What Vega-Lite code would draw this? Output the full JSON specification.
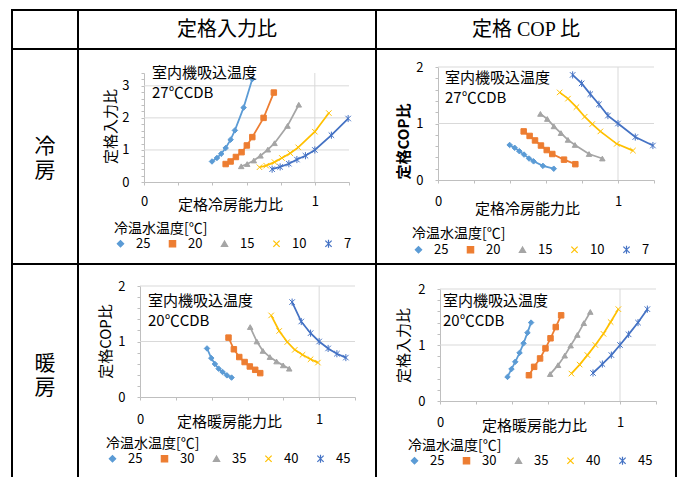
{
  "$schema": "https://vega.github.io/schema/vega-lite/v6.json",
  "padding": {"left": 11, "top": 9, "right": 8, "bottom": -3},
  "spacing": 0,
  "bounds": "flush",
  "align": "each",
  "columns": 3,
  "resolve": {"scale": {"color": "independent", "stroke": "independent", "shape": "independent"}, "legend": {"color": "independent", "stroke": "independent", "shape": "independent"}},
  "config": {
    "font": "Noto Sans CJK JP",
    "view": {"stroke": "#000000", "strokeWidth": 2},
    "concat": {"spacing": 0},
    "axis": {"domainColor": "#bfbfbf", "tickColor": "#bfbfbf", "gridColor": "#d9d9d9", "labelColor": "#000000", "titleColor": "#000000", "labelFontSize": 13, "titleFontSize": 15, "titleFontWeight": "normal", "tickSize": 3, "labelFlush": false, "labelOverlap": false, "format": "d"},
    "legend": {"labelFontSize": 13, "titleFontSize": 14, "titleFontWeight": "normal", "titleColor": "#000000", "labelColor": "#000000", "padding": 0},
    "title": {"fontSize": 15, "fontWeight": "normal", "subtitleFontSize": 15, "subtitleColor": "#000000", "color": "#000000", "anchor": "start", "frame": "group", "subtitlePadding": 5, "align": "left"}
  },
  "datasets": {
    "coolInput": [
      {"temp":"25","cap":0.398,"ratio":0.64},{"temp":"25","cap":0.427,"ratio":0.75},{"temp":"25","cap":0.452,"ratio":0.88},{"temp":"25","cap":0.478,"ratio":1.06},{"temp":"25","cap":0.507,"ratio":1.32},{"temp":"25","cap":0.532,"ratio":1.61},{"temp":"25","cap":0.583,"ratio":2.32},{"temp":"25","cap":0.634,"ratio":3.21},
      {"temp":"20","cap":0.478,"ratio":0.56},{"temp":"20","cap":0.507,"ratio":0.64},{"temp":"20","cap":0.538,"ratio":0.78},{"temp":"20","cap":0.571,"ratio":0.93},{"temp":"20","cap":0.602,"ratio":1.14},{"temp":"20","cap":0.634,"ratio":1.40},{"temp":"20","cap":0.700,"ratio":2.00},{"temp":"20","cap":0.760,"ratio":2.79},
      {"temp":"15","cap":0.569,"ratio":0.49},{"temp":"15","cap":0.604,"ratio":0.56},{"temp":"15","cap":0.643,"ratio":0.67},{"temp":"15","cap":0.682,"ratio":0.82},{"temp":"15","cap":0.725,"ratio":1.01},{"temp":"15","cap":0.764,"ratio":1.21},{"temp":"15","cap":0.840,"ratio":1.75},{"temp":"15","cap":0.906,"ratio":2.41},
      {"temp":"10","cap":0.676,"ratio":0.46},{"temp":"10","cap":0.715,"ratio":0.51},{"temp":"10","cap":0.764,"ratio":0.62},{"temp":"10","cap":0.807,"ratio":0.75},{"temp":"10","cap":0.856,"ratio":0.90},{"temp":"10","cap":0.903,"ratio":1.08},{"temp":"10","cap":1.000,"ratio":1.57},{"temp":"10","cap":1.082,"ratio":2.15},
      {"temp":"7","cap":0.750,"ratio":0.40},{"temp":"7","cap":0.797,"ratio":0.47},{"temp":"7","cap":0.848,"ratio":0.57},{"temp":"7","cap":0.895,"ratio":0.70},{"temp":"7","cap":0.945,"ratio":0.82},{"temp":"7","cap":1.000,"ratio":1.00},{"temp":"7","cap":1.097,"ratio":1.46},{"temp":"7","cap":1.195,"ratio":1.98}
    ],
    "coolCop": [
      {"temp":"25","cap":0.398,"ratio":0.62},{"temp":"25","cap":0.426,"ratio":0.57},{"temp":"25","cap":0.452,"ratio":0.51},{"temp":"25","cap":0.478,"ratio":0.45},{"temp":"25","cap":0.506,"ratio":0.38},{"temp":"25","cap":0.531,"ratio":0.33},{"temp":"25","cap":0.583,"ratio":0.25},{"temp":"25","cap":0.643,"ratio":0.20},
      {"temp":"20","cap":0.476,"ratio":0.86},{"temp":"20","cap":0.509,"ratio":0.78},{"temp":"20","cap":0.539,"ratio":0.70},{"temp":"20","cap":0.572,"ratio":0.61},{"temp":"20","cap":0.604,"ratio":0.53},{"temp":"20","cap":0.635,"ratio":0.46},{"temp":"20","cap":0.700,"ratio":0.36},{"temp":"20","cap":0.763,"ratio":0.28},
      {"temp":"15","cap":0.569,"ratio":1.17},{"temp":"15","cap":0.607,"ratio":1.08},{"temp":"15","cap":0.644,"ratio":0.95},{"temp":"15","cap":0.683,"ratio":0.83},{"temp":"15","cap":0.722,"ratio":0.71},{"temp":"15","cap":0.761,"ratio":0.62},{"temp":"15","cap":0.839,"ratio":0.46},{"temp":"15","cap":0.913,"ratio":0.38},
      {"temp":"10","cap":0.676,"ratio":1.55},{"temp":"10","cap":0.722,"ratio":1.44},{"temp":"10","cap":0.769,"ratio":1.29},{"temp":"10","cap":0.815,"ratio":1.12},{"temp":"10","cap":0.857,"ratio":0.99},{"temp":"10","cap":0.902,"ratio":0.86},{"temp":"10","cap":0.993,"ratio":0.64},{"temp":"10","cap":1.083,"ratio":0.52},
      {"temp":"7","cap":0.748,"ratio":1.86},{"temp":"7","cap":0.798,"ratio":1.71},{"temp":"7","cap":0.846,"ratio":1.52},{"temp":"7","cap":0.894,"ratio":1.34},{"temp":"7","cap":0.944,"ratio":1.14},{"temp":"7","cap":1.000,"ratio":1.00},{"temp":"7","cap":1.096,"ratio":0.76},{"temp":"7","cap":1.194,"ratio":0.61}
    ],
    "heatCop": [
      {"temp":"25","cap":0.374,"ratio":0.875},{"temp":"25","cap":0.398,"ratio":0.70},{"temp":"25","cap":0.418,"ratio":0.595},{"temp":"25","cap":0.439,"ratio":0.51},{"temp":"25","cap":0.461,"ratio":0.45},{"temp":"25","cap":0.485,"ratio":0.39},{"temp":"25","cap":0.511,"ratio":0.35},
      {"temp":"30","cap":0.494,"ratio":1.07},{"temp":"30","cap":0.524,"ratio":0.86},{"temp":"30","cap":0.554,"ratio":0.72},{"temp":"30","cap":0.584,"ratio":0.63},{"temp":"30","cap":0.613,"ratio":0.55},{"temp":"30","cap":0.643,"ratio":0.49},{"temp":"30","cap":0.671,"ratio":0.43},
      {"temp":"35","cap":0.615,"ratio":1.26},{"temp":"35","cap":0.652,"ratio":1.00},{"temp":"35","cap":0.686,"ratio":0.83},{"temp":"35","cap":0.725,"ratio":0.72},{"temp":"35","cap":0.762,"ratio":0.64},{"temp":"35","cap":0.799,"ratio":0.57},{"temp":"35","cap":0.833,"ratio":0.51},
      {"temp":"40","cap":0.732,"ratio":1.47},{"temp":"40","cap":0.777,"ratio":1.19},{"temp":"40","cap":0.822,"ratio":0.99},{"temp":"40","cap":0.864,"ratio":0.85},{"temp":"40","cap":0.907,"ratio":0.76},{"temp":"40","cap":0.952,"ratio":0.68},{"temp":"40","cap":0.993,"ratio":0.62},
      {"temp":"45","cap":0.849,"ratio":1.71},{"temp":"45","cap":0.900,"ratio":1.36},{"temp":"45","cap":0.952,"ratio":1.15},{"temp":"45","cap":1.000,"ratio":1.00},{"temp":"45","cap":1.050,"ratio":0.875},{"temp":"45","cap":1.099,"ratio":0.78},{"temp":"45","cap":1.149,"ratio":0.71}
    ],
    "heatInput": [
      {"temp":"25","cap":0.375,"ratio":0.43},{"temp":"25","cap":0.397,"ratio":0.57},{"temp":"25","cap":0.418,"ratio":0.70},{"temp":"25","cap":0.442,"ratio":0.86},{"temp":"25","cap":0.464,"ratio":1.03},{"temp":"25","cap":0.486,"ratio":1.22},{"temp":"25","cap":0.506,"ratio":1.40},
      {"temp":"30","cap":0.494,"ratio":0.46},{"temp":"30","cap":0.523,"ratio":0.61},{"temp":"30","cap":0.556,"ratio":0.76},{"temp":"30","cap":0.586,"ratio":0.94},{"temp":"30","cap":0.614,"ratio":1.12},{"temp":"30","cap":0.643,"ratio":1.32},{"temp":"30","cap":0.673,"ratio":1.53},
      {"temp":"35","cap":0.612,"ratio":0.48},{"temp":"35","cap":0.656,"ratio":0.64},{"temp":"35","cap":0.693,"ratio":0.81},{"temp":"35","cap":0.726,"ratio":0.99},{"temp":"35","cap":0.763,"ratio":1.18},{"temp":"35","cap":0.799,"ratio":1.39},{"temp":"35","cap":0.835,"ratio":1.59},
      {"temp":"40","cap":0.730,"ratio":0.49},{"temp":"40","cap":0.776,"ratio":0.65},{"temp":"40","cap":0.819,"ratio":0.82},{"temp":"40","cap":0.863,"ratio":1.00},{"temp":"40","cap":0.908,"ratio":1.20},{"temp":"40","cap":0.948,"ratio":1.41},{"temp":"40","cap":0.991,"ratio":1.64},
      {"temp":"45","cap":0.850,"ratio":0.50},{"temp":"45","cap":0.902,"ratio":0.66},{"temp":"45","cap":0.952,"ratio":0.82},{"temp":"45","cap":1.000,"ratio":1.00},{"temp":"45","cap":1.048,"ratio":1.19},{"temp":"45","cap":1.100,"ratio":1.40},{"temp":"45","cap":1.152,"ratio":1.64}
    ]
  },
  "concat": [
    {"width": 66, "height": 39, "view": {"stroke": "#000000", "strokeWidth": 2}, "data": {"values": [{"t": ""}]}, "mark": {"type": "text"}, "encoding": {"text": {"field": "t"}}},
    {"width": 298, "height": 39, "view": {"stroke": "#000000", "strokeWidth": 2}, "data": {"values": [{"t": "定格入力比"}]}, "mark": {"type": "text", "fontSize": 20, "font": "Liberation Serif, Noto Sans CJK JP"}, "encoding": {"text": {"field": "t"}}},
    {"width": 300, "height": 39, "view": {"stroke": "#000000", "strokeWidth": 2}, "data": {"values": [{"t": "定格 COP 比"}]}, "mark": {"type": "text", "fontSize": 20, "font": "Liberation Serif, Noto Sans CJK JP"}, "encoding": {"text": {"field": "t"}}},
    {"width": 66, "height": 215, "view": {"stroke": "#000000", "strokeWidth": 2}, "data": {"values": [{"t": "冷\n房"}]}, "mark": {"type": "text", "fontSize": 21, "lineBreak": "\n", "lineHeight": 24, "dy": -10}, "encoding": {"text": {"field": "t"}}},
    {
      "width": 298, "height": 215,
      "data": {"name": "coolInput"},
      "title": {"text": "室内機吸込温度", "subtitle": "27℃CDB", "dx": 74, "offset": -52},
      "resolve": {"axis": {"y": "independent"}},
      "layer": [
        {"data": {"values": [{"cap": 1}]}, "mark": {"type": "rule", "color": "#d9d9d9"}, "encoding": {"x": {"field": "cap", "type": "quantitative"}, "y": {"datum": 0, "axis": null}, "y2": {"datum": 3.4}}},
        {"data": {"values": [{"ratio": 1}, {"ratio": 2}, {"ratio": 3}]}, "mark": {"type": "rule", "color": "#d9d9d9"}, "encoding": {"y": {"field": "ratio", "type": "quantitative", "axis": null}, "x": {"datum": 0}, "x2": {"datum": 1.2}}},
        {"mark": {"type": "line", "strokeWidth": 1.75}, "encoding": {
          "x": {"field": "cap", "type": "quantitative", "scale": {"domain": [0, 1.2], "range": [66, 271], "nice": false},
            "axis": {"orient": "bottom", "offset": -82, "values": [0, 0.2, 0.4, 0.6, 0.8, 1, 1.2], "labelExpr": "datum.value % 1 == 0 ? datum.label : ''", "labelOverlap": false, "labelPadding": 16, "labelBaseline": "middle", "grid": false, "title": "定格冷房能力比", "titleX": 152, "titleY": 22, "titleBaseline": "middle", "titleAlign": "center"}},
          "y": {"field": "ratio", "type": "quantitative", "scale": {"domain": [0, 3.4], "range": [133, 24], "nice": false},
            "axis": {"orient": "left", "offset": -66, "values": [0, 1, 2, 3], "labelPadding": 12, "grid": false, "title": "定格入力比", "titleX": -34, "titleY": 77, "titleAngle": 270, "titleAlign": "center", "titleBaseline": "middle"}},
          "color": {"field": "temp", "type": "nominal", "scale": {"domain": ["25", "20", "15", "10", "7"], "range": ["#5b9bd5", "#ed7d31", "#a5a5a5", "#ffc000", "#4472c4"]}}
        }},
        {"mark": {"type": "point", "filled": true, "size": 30, "strokeWidth": 1, "opacity": 1}, "encoding": {
          "x": {"field": "cap", "type": "quantitative"},
          "y": {"field": "ratio", "type": "quantitative", "axis": {"orient": "left", "offset": -66, "values": [0.2, 0.4, 0.6, 0.8, 1.2, 1.4, 1.6, 1.8, 2.2, 2.4, 2.6, 2.8, 3.2, 3.4], "labels": false, "domain": false, "grid": false, "title": null}},
          "color": {"field": "temp", "type": "nominal", "scale": {"domain": ["25", "20", "15", "10", "7"], "range": ["#5b9bd5", "#ed7d31", "#a5a5a5", "#ffc000", "#4472c4"]},
            "legend": {"orient": "none", "legendX": 36, "legendY": 173, "direction": "horizontal", "title": "冷温水温度[℃]", "titlePadding": 1, "symbolSize": 40, "symbolStrokeWidth": 1.2, "labelOffset": 9, "columnPadding": 15}},
          "stroke": {"field": "temp", "type": "nominal", "scale": {"domain": ["25", "20", "15", "10", "7"], "range": ["#5b9bd5", "#ed7d31", "#a5a5a5", "#ffc000", "#4472c4"]}, "legend": null},
          "shape": {"field": "temp", "type": "nominal", "scale": {"domain": ["25", "20", "15", "10", "7"], "range": ["diamond", "square", "triangle-up", "M-1,-1L1,1M-1,1L1,-1", "M-1,-1L1,1M-1,1L1,-1M0,-1.3L0,1.3"]}, "legend": null}
        }}
      ]
    },
    {
      "width": 300, "height": 215,
      "data": {"name": "coolCop"},
      "title": {"text": "室内機吸込温度", "subtitle": "27℃CDB", "dx": 69, "offset": -57},
      "resolve": {"axis": {"y": "independent"}},
      "layer": [
        {"data": {"values": [{"cap": 1}]}, "mark": {"type": "rule", "color": "#d9d9d9"}, "encoding": {"x": {"field": "cap", "type": "quantitative"}, "y": {"datum": 0, "axis": null}, "y2": {"datum": 2}}},
        {"data": {"values": [{"ratio": 1}, {"ratio": 2}]}, "mark": {"type": "rule", "color": "#d9d9d9"}, "encoding": {"y": {"field": "ratio", "type": "quantitative", "axis": null}, "x": {"datum": 0}, "x2": {"datum": 1.2}}},
        {"mark": {"type": "line", "strokeWidth": 1.75}, "encoding": {
          "x": {"field": "cap", "type": "quantitative", "scale": {"domain": [0, 1.2], "range": [62, 278], "nice": false},
            "axis": {"orient": "bottom", "offset": -84, "values": [0, 0.2, 0.4, 0.6, 0.8, 1, 1.2], "labelExpr": "datum.value % 1 == 0 ? datum.label : ''", "labelOverlap": false, "labelPadding": 18, "labelBaseline": "middle", "grid": false, "title": "定格冷房能力比", "titleX": 151, "titleY": 28, "titleBaseline": "middle", "titleAlign": "center"}},
          "y": {"field": "ratio", "type": "quantitative", "scale": {"domain": [0, 2], "range": [131, 18], "nice": false},
            "axis": {"orient": "left", "offset": -62, "values": [0, 1, 2], "labelPadding": 12, "grid": false, "title": "定格COP比", "titleFontWeight": "bold", "titleX": -35, "titleY": 92, "titleAngle": 270, "titleAlign": "center", "titleBaseline": "middle"}},
          "color": {"field": "temp", "type": "nominal", "scale": {"domain": ["25", "20", "15", "10", "7"], "range": ["#5b9bd5", "#ed7d31", "#a5a5a5", "#ffc000", "#4472c4"]}}
        }},
        {"mark": {"type": "point", "filled": true, "size": 30, "strokeWidth": 1, "opacity": 1}, "encoding": {
          "x": {"field": "cap", "type": "quantitative"},
          "y": {"field": "ratio", "type": "quantitative", "axis": {"orient": "left", "offset": -62, "values": [0.2, 0.4, 0.6, 0.8, 1.2, 1.4, 1.6, 1.8], "labels": false, "domain": false, "grid": false, "title": null}},
          "color": {"field": "temp", "type": "nominal", "scale": {"domain": ["25", "20", "15", "10", "7"], "range": ["#5b9bd5", "#ed7d31", "#a5a5a5", "#ffc000", "#4472c4"]},
            "legend": {"orient": "none", "legendX": 36, "legendY": 178, "direction": "horizontal", "title": "冷温水温度[℃]", "titlePadding": 2, "symbolSize": 40, "symbolStrokeWidth": 1.2, "labelOffset": 9, "columnPadding": 15}},
          "stroke": {"field": "temp", "type": "nominal", "scale": {"domain": ["25", "20", "15", "10", "7"], "range": ["#5b9bd5", "#ed7d31", "#a5a5a5", "#ffc000", "#4472c4"]}, "legend": null},
          "shape": {"field": "temp", "type": "nominal", "scale": {"domain": ["25", "20", "15", "10", "7"], "range": ["diamond", "square", "triangle-up", "M-1,-1L1,1M-1,1L1,-1", "M-1,-1L1,1M-1,1L1,-1M0,-1.3L0,1.3"]}, "legend": null}
        }}
      ]
    },
    {"width": 66, "height": 215, "view": {"stroke": "#000000", "strokeWidth": 2}, "data": {"values": [{"t": "暖\n房"}]}, "mark": {"type": "text", "fontSize": 21, "lineBreak": "\n", "lineHeight": 24, "dy": -8}, "encoding": {"text": {"field": "t"}}},
    {
      "width": 298, "height": 215,
      "data": {"name": "heatCop"},
      "title": {"text": "室内機吸込温度", "subtitle": "20℃CDB", "dx": 70, "offset": -65},
      "resolve": {"axis": {"y": "independent"}},
      "layer": [
        {"data": {"values": [{"cap": 1}]}, "mark": {"type": "rule", "color": "#d9d9d9"}, "encoding": {"x": {"field": "cap", "type": "quantitative"}, "y": {"datum": 0, "axis": null}, "y2": {"datum": 2}}},
        {"data": {"values": [{"ratio": 1}, {"ratio": 2}]}, "mark": {"type": "rule", "color": "#d9d9d9"}, "encoding": {"y": {"field": "ratio", "type": "quantitative", "axis": null}, "x": {"datum": 0}, "x2": {"datum": 1.2}}},
        {"mark": {"type": "line", "strokeWidth": 1.75}, "encoding": {
          "x": {"field": "cap", "type": "quantitative", "scale": {"domain": [0, 1.2], "range": [62, 277], "nice": false},
            "axis": {"orient": "bottom", "offset": -82, "values": [0, 0.2, 0.4, 0.6, 0.8, 1, 1.2], "labelExpr": "datum.value % 1 == 0 ? datum.label : ''", "labelOverlap": false, "labelPadding": 19, "labelBaseline": "middle", "grid": false, "title": "定格暖房能力比", "titleX": 151, "titleY": 24, "titleBaseline": "middle", "titleAlign": "center"}},
          "y": {"field": "ratio", "type": "quantitative", "scale": {"domain": [0, 2], "range": [133, 22], "nice": false},
            "axis": {"orient": "left", "offset": -62, "values": [0, 1, 2], "labelPadding": 12, "grid": false, "title": "定格COP比", "titleX": -35, "titleY": 77, "titleAngle": 270, "titleAlign": "center", "titleBaseline": "middle"}},
          "color": {"field": "temp", "type": "nominal", "scale": {"domain": ["25", "30", "35", "40", "45"], "range": ["#5b9bd5", "#ed7d31", "#a5a5a5", "#ffc000", "#4472c4"]}}
        }},
        {"mark": {"type": "point", "filled": true, "size": 30, "strokeWidth": 1, "opacity": 1}, "encoding": {
          "x": {"field": "cap", "type": "quantitative"},
          "y": {"field": "ratio", "type": "quantitative", "axis": {"orient": "left", "offset": -62, "values": [0.2, 0.4, 0.6, 0.8, 1.2, 1.4, 1.6, 1.8], "labels": false, "domain": false, "grid": false, "title": null}},
          "color": {"field": "temp", "type": "nominal", "scale": {"domain": ["25", "30", "35", "40", "45"], "range": ["#5b9bd5", "#ed7d31", "#a5a5a5", "#ffc000", "#4472c4"]},
            "legend": {"orient": "none", "legendX": 28, "legendY": 173, "direction": "horizontal", "title": "冷温水温度[℃]", "titlePadding": 1, "symbolSize": 40, "symbolStrokeWidth": 1.2, "labelOffset": 9, "columnPadding": 15}},
          "stroke": {"field": "temp", "type": "nominal", "scale": {"domain": ["25", "30", "35", "40", "45"], "range": ["#5b9bd5", "#ed7d31", "#a5a5a5", "#ffc000", "#4472c4"]}, "legend": null},
          "shape": {"field": "temp", "type": "nominal", "scale": {"domain": ["25", "30", "35", "40", "45"], "range": ["diamond", "square", "triangle-up", "M-1,-1L1,1M-1,1L1,-1", "M-1,-1L1,1M-1,1L1,-1M0,-1.3L0,1.3"]}, "legend": null}
        }}
      ]
    },
    {
      "width": 300, "height": 215,
      "data": {"name": "heatInput"},
      "title": {"text": "室内機吸込温度", "subtitle": "20℃CDB", "dx": 67, "offset": -65},
      "resolve": {"axis": {"y": "independent"}},
      "layer": [
        {"data": {"values": [{"cap": 1}]}, "mark": {"type": "rule", "color": "#d9d9d9"}, "encoding": {"x": {"field": "cap", "type": "quantitative"}, "y": {"datum": 0, "axis": null}, "y2": {"datum": 2}}},
        {"data": {"values": [{"ratio": 1}, {"ratio": 2}]}, "mark": {"type": "rule", "color": "#d9d9d9"}, "encoding": {"y": {"field": "ratio", "type": "quantitative", "axis": null}, "x": {"datum": 0}, "x2": {"datum": 1.2}}},
        {"mark": {"type": "line", "strokeWidth": 1.75}, "encoding": {
          "x": {"field": "cap", "type": "quantitative", "scale": {"domain": [0, 1.2], "range": [64, 280], "nice": false},
            "axis": {"orient": "bottom", "offset": -78, "values": [0, 0.2, 0.4, 0.6, 0.8, 1, 1.2], "labelExpr": "datum.value % 1 == 0 ? datum.label : ''", "labelOverlap": false, "labelPadding": 18, "labelBaseline": "middle", "grid": false, "title": "定格暖房能力比", "titleX": 158, "titleY": 24, "titleBaseline": "middle", "titleAlign": "center"}},
          "y": {"field": "ratio", "type": "quantitative", "scale": {"domain": [0, 2], "range": [137, 25], "nice": false},
            "axis": {"orient": "left", "offset": -64, "values": [0, 1, 2], "labelPadding": 12, "grid": false, "title": "定格入力比", "titleX": -37, "titleY": 81, "titleAngle": 270, "titleAlign": "center", "titleBaseline": "middle"}},
          "color": {"field": "temp", "type": "nominal", "scale": {"domain": ["25", "30", "35", "40", "45"], "range": ["#5b9bd5", "#ed7d31", "#a5a5a5", "#ffc000", "#4472c4"]}}
        }},
        {"mark": {"type": "point", "filled": true, "size": 30, "strokeWidth": 1, "opacity": 1}, "encoding": {
          "x": {"field": "cap", "type": "quantitative"},
          "y": {"field": "ratio", "type": "quantitative", "axis": {"orient": "left", "offset": -64, "values": [0.2, 0.4, 0.6, 0.8, 1.2, 1.4, 1.6, 1.8], "labels": false, "domain": false, "grid": false, "title": null}},
          "color": {"field": "temp", "type": "nominal", "scale": {"domain": ["25", "30", "35", "40", "45"], "range": ["#5b9bd5", "#ed7d31", "#a5a5a5", "#ffc000", "#4472c4"]},
            "legend": {"orient": "none", "legendX": 32, "legendY": 175, "direction": "horizontal", "title": "冷温水温度[℃]", "titlePadding": 1, "symbolSize": 40, "symbolStrokeWidth": 1.2, "labelOffset": 9, "columnPadding": 15}},
          "stroke": {"field": "temp", "type": "nominal", "scale": {"domain": ["25", "30", "35", "40", "45"], "range": ["#5b9bd5", "#ed7d31", "#a5a5a5", "#ffc000", "#4472c4"]}, "legend": null},
          "shape": {"field": "temp", "type": "nominal", "scale": {"domain": ["25", "30", "35", "40", "45"], "range": ["diamond", "square", "triangle-up", "M-1,-1L1,1M-1,1L1,-1", "M-1,-1L1,1M-1,1L1,-1M0,-1.3L0,1.3"]}, "legend": null}
        }}
      ]
    }
  ]
}
